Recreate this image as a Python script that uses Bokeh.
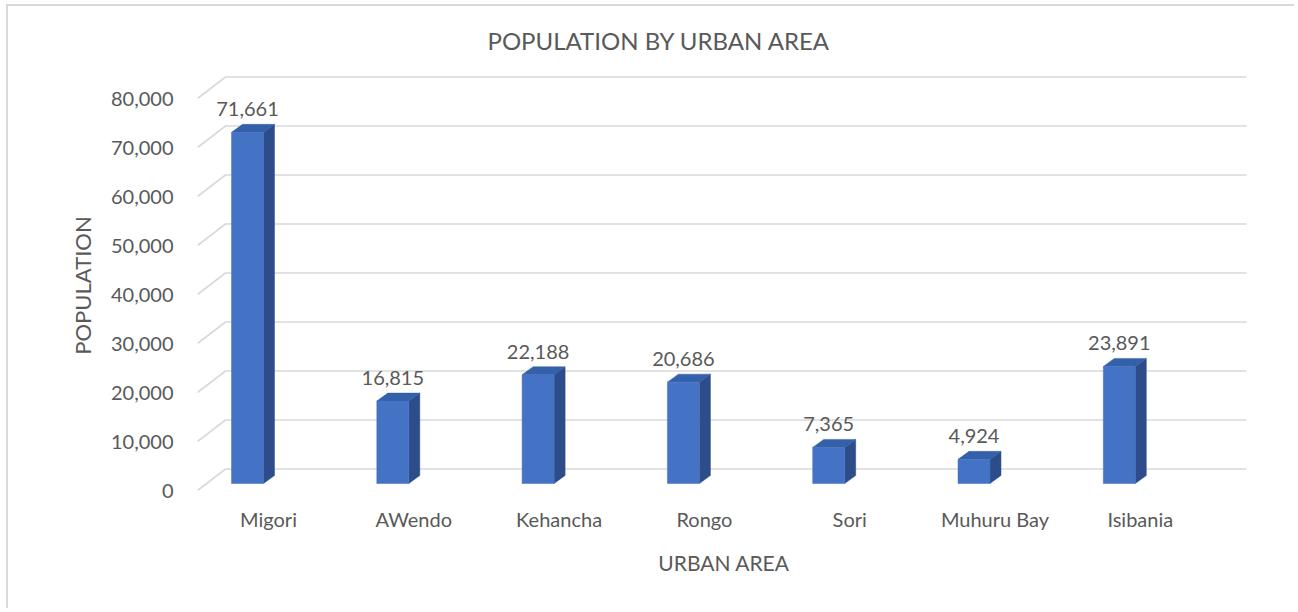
from bokeh.plotting import figure
from bokeh.models import Range1d, FixedTicker
from bokeh.core.properties import value
from bokeh.embed import file_html
from bokeh.resources import INLINE

# ---- data ----
categories = ["Migori", "AWendo", "Kehancha", "Rongo", "Sori", "Muhuru Bay", "Isibania"]
population = [71661, 16815, 22188, 20686, 7365, 4924, 23891]
y_ticks = [0, 10000, 20000, 30000, 40000, 50000, 60000, 70000, 80000]
title_text = "POPULATION BY URBAN AREA"
x_title = "URBAN AREA"
y_title = "POPULATION"

# ---- style constants (pixels) ----
PX = 0.0049          # pixels per data unit on y
SPACING = 145.3      # pixels per category
FONT = "Lato"
GREY = "#595959"
GRID = "#d9d9d9"

W, H = 1288, 604
ML, MT = 189, 64
frame_w, frame_h = 1053, 430
MR = W - ML - frame_w
MB = H - MT - frame_h

x0 = (197 - 268) / SPACING
y0 = -10 / PX

p = figure(width=W, height=H, output_backend="svg", toolbar_location=None,
           x_range=Range1d(x0, x0 + frame_w / SPACING),
           y_range=Range1d(y0, y0 + frame_h / PX),
           min_border_left=ML, min_border_right=MR, min_border_top=MT, min_border_bottom=MB)
p.styles = {"border-left": "2px solid #d9d9d9", "border-top": "2px solid #d9d9d9",
            "margin-left": "6px", "margin-top": "4px"}
p.outline_line_color = None
p.xgrid.visible = False
p.ygrid.visible = False
p.background_fill_color = "white"
p.border_fill_color = "white"

# title
p.title.text = title_text
p.title.text_font = FONT
p.title.text_font_size = "24px"
p.title.text_font_style = "normal"
p.title.text_color = GREY
p.title.align = "left"
p.title.offset = 290
p.title.standoff = 32

# 3D-style gridlines (front edge diagonal + back wall line)
g_dx0 = x0
g_dx1 = (225 - 268) / SPACING
g_dx2 = (1246 - 268) / SPACING
g_dy = 21.5 / PX
gx, gy = [], []
for t in y_ticks:
    gx.append([g_dx0, g_dx1, g_dx2])
    gy.append([t, t + g_dy, t + g_dy])
p.multi_line(xs=gx, ys=gy, line_color=GRID, line_width=1.6)

# bars
base = 7 / PX
depth_x = 11 / SPACING
depth_y = 8 / PX
lefts = [i - 37 / SPACING for i in range(len(categories))]
rights = [i - 5 / SPACING for i in range(len(categories))]
tops = [base + v for v in population]
bottoms = [base] * len(population)

side_xs = [[r, r + depth_x, r + depth_x, r] for r in rights]
side_ys = [[b, b + depth_y, t + depth_y, t] for b, t in zip(bottoms, tops)]
top_xs = [[l, r, r + depth_x, l + depth_x] for l, r in zip(lefts, rights)]
top_ys = [[t, t, t + depth_y, t + depth_y] for t in tops]

p.patches(xs=side_xs, ys=side_ys, fill_color="#2C4D8A", line_color="#2C4D8A", line_width=0.5)
p.patches(xs=top_xs, ys=top_ys, fill_color="#3460AA", line_color="#3460AA", line_width=0.5)
p.quad(left=lefts, right=rights, bottom=bottoms, top=tops,
       fill_color="#4472C4", line_color="#4472C4", line_width=0.5)

# data labels
lab_x = [(l + r) / 2 for l, r in zip(lefts, rights)]
lab_y = [t + depth_y + 15 / PX for t in tops]
p.text(x=lab_x, y=lab_y, text=[f"{v:,}" for v in population],
       text_font=value(FONT), text_font_size="20px", text_color=GREY,
       text_align="center", text_baseline="alphabetic")

# axes
p.yaxis.ticker = FixedTicker(ticks=y_ticks)
p.yaxis.major_label_overrides = {t: f"{t:,}" for t in y_ticks}
p.yaxis.axis_line_color = None
p.yaxis.major_tick_line_color = None
p.yaxis.minor_tick_line_color = None
p.yaxis.major_label_standoff = 18
p.yaxis.major_label_text_font = FONT
p.yaxis.major_label_text_font_size = "20px"
p.yaxis.major_label_text_color = GREY
p.yaxis.axis_label = y_title
p.yaxis.axis_label_text_font = FONT
p.yaxis.axis_label_text_font_size = "22px"
p.yaxis.axis_label_text_font_style = "normal"
p.yaxis.axis_label_text_color = GREY
p.yaxis.axis_label_standoff = 12

p.xaxis.ticker = FixedTicker(ticks=list(range(len(categories))))
p.xaxis.major_label_overrides = {i: c for i, c in enumerate(categories)}
p.xaxis.axis_line_color = None
p.xaxis.major_tick_line_color = None
p.xaxis.minor_tick_line_color = None
p.xaxis.major_label_standoff = 0
p.xaxis.major_label_text_font = FONT
p.xaxis.major_label_text_font_size = "20px"
p.xaxis.major_label_text_color = GREY
p.xaxis.axis_label = x_title
p.xaxis.axis_label_text_font = FONT
p.xaxis.axis_label_text_font_size = "21px"
p.xaxis.axis_label_text_font_style = "normal"
p.xaxis.axis_label_text_color = GREY
p.xaxis.axis_label_standoff = 16

open("out.html", "w").write(file_html(p, INLINE))
